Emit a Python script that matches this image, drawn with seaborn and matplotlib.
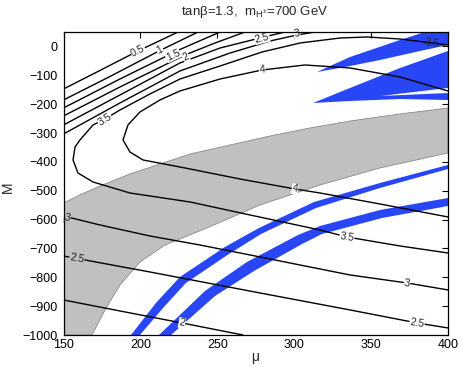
import matplotlib
matplotlib.use("Agg")
import matplotlib.pyplot as plt
import seaborn as sns
import pandas as pd

# ---------------- data (mu, M) ----------------
c05_mu = [150, 173.7, 198.4, 224.5]
c05_M = [-147.5, -83.3, -15.8, 50]
c1_mu = [150, 180.2, 212.7, 237.5]
c1_M = [-185.6, -104.2, -14.1, 50]
c15_mu = [150, 186.7, 225.7, 251.8]
c15_M = [-213.3, -112.9, -10.6, 50]
c2u_mu = [150, 186.7, 229.0, 248.5, 268.0]
c2u_M = [-241.0, -140.6, -29.7, 11.9, 50]
c25u_mu = [150, 186.7, 225.7, 251.8, 279.1, 294.0]
c25u_M = [-272.2, -168.3, -57.4, -5.4, 30.9, 50]
c3u_mu = [150, 186.7, 225.7, 258.3, 284.3, 301.8, 313.5]
c3u_M = [-303.4, -196.0, -85.1, -22.8, 18.8, 39.6, 50]
c35_mu = [400, 389.6, 368.8, 347.3, 329.8, 303.8, 279.1, 251.8, 225.7, 206.2,
          186.7, 177.0, 169.2, 160.7, 157.5, 156.2, 159.4, 169.2, 193.2, 232.3,
          271.3, 316.8, 334.3, 368.8, 400]
c35_M = [5.0, 11.9, 25.7, 32.7, 29.2, 11.9, -19.3, -67.8, -112.9, -164.8,
         -220.3, -251.5, -272.2, -324.2, -348.5, -393.5, -438.6, -469.8, -507.9,
         -539.1, -584.1, -636.1, -660.3, -691.5, -715.8]
c4_mu = [400, 368.8, 336.3, 307.0, 279.1, 251.8, 225.7, 212.7, 199.7, 191.9,
         188.7, 193.2, 201.7, 229.0, 264.8, 300.5, 316.8, 355.8, 400]
c4_M = [-154.4, -105.9, -74.7, -64.3, -81.7, -112.9, -154.4, -185.6, -227.2,
        -272.2, -324.2, -365.8, -393.5, -421.2, -459.4, -494.0, -507.9, -546.0,
        -591.0]
c3l_mu = [150, 173.7, 206.2, 238.7, 277.8, 303.8, 336.3, 373.4, 400]
c3l_M = [-587.6, -618.7, -656.9, -688.1, -729.6, -757.4, -792.0, -819.7, -843.9]
c25l_mu = [150, 206.2, 277.8, 336.3, 379.9, 400]
c25l_M = [-726.2, -781.6, -854.4, -913.2, -958.3, -975.6]
c2l_mu = [150, 186.7, 227.0, 266.7]
c2l_M = [-878.6, -916.7, -958.3, -1000]

lines_mu = [c05_mu, c1_mu, c15_mu, c2u_mu, c25u_mu, c3u_mu, c35_mu, c4_mu,
            c3l_mu, c25l_mu, c2l_mu]
lines_M = [c05_M, c1_M, c15_M, c2u_M, c25u_M, c3u_M, c35_M, c4_M,
           c3l_M, c25l_M, c2l_M]

# contour labels: text, mu, M
lab_text = ["0.5", "1", "1.5", "2", "2.5", "3", "3.5", "3.5", "4", "4",
            "3.5", "3", "3", "2.5", "2.5", "2"]
lab_mu = [198.4, 212.7, 221.2, 229.6, 279.1, 301.8, 177.0, 389.6, 279.1, 300.5,
          334.3, 152.3, 373.4, 158.8, 379.9, 227.0]
lab_M = [-15.8, -12.4, -29.7, -36.6, 29.2, 43.1, -254.9, 11.9, -81.7, -494.0,
         -660.3, -594.5, -819.7, -733.1, -958.3, -958.3]

# gray excluded band
gray_mu = [150, 160.7, 173.7, 193.2, 212.7, 232.3, 258.3, 284.3, 310.3, 336.3,
           368.8, 400, 400, 355.8, 316.8, 277.8, 243.3, 216.0, 199.7, 186.7,
           177.0, 168.5, 150]
gray_M = [-542.5, -514.8, -483.6, -442.0, -407.4, -372.7, -341.5, -310.4,
          -282.6, -258.4, -234.1, -213.3, -369.3, -421.2, -480.1, -549.4,
          -629.1, -688.1, -747.0, -826.6, -913.2, -1000, -1000]

# blue allowed regions
bandA_mu = [193.9, 210.1, 225.7, 255.0, 277.1, 312.9, 355.8, 400,
            400, 355.8, 314.2, 278.4, 257.6, 229.6, 215.3, 199.7]
bandA_M = [-1000, -889.0, -798.9, -694.9, -629.1, -539.1, -473.2, -410.8,
           -424.7, -490.5, -559.8, -650.0, -719.2, -819.7, -902.9, -1000]
bandB_mu = [212.1, 242.0, 269.3, 302.5, 316.8, 355.8, 400,
            400, 357.1, 318.1, 305.1, 273.9, 248.5, 219.9]
bandB_M = [-1000, -847.4, -746.9, -653.4, -622.2, -566.8, -525.2,
           -552.9, -594.5, -649.9, -684.6, -778.1, -864.8, -1000]
wedge1_mu = [314.8, 336.3, 368.8, 385.0, 400, 400, 381.8, 355.8, 333.0]
wedge1_M = [-88.6, -36.6, 22.3, 50, 50, 5.0, -15.8, -47.0, -71.3]
wedge2_mu = [312.2, 336.3, 368.8, 400, 400, 355.8, 400, 400, 368.8, 336.3]
wedge2_M = [-196.0, -144.0, -74.7, -15.8, -144.0, -171.8, -161.4, -185.6,
            -182.2, -189.1]

x_ticks = [150, 200, 250, 300, 350, 400]
y_ticks = [0, -100, -200, -300, -400, -500, -600, -700, -800, -900, -1000]

# ---------------- drawing ----------------
sns.set_theme(style="white")
plt.rcParams["font.family"] = ["Liberation Sans", "DejaVu Sans"]
plt.rcParams["mathtext.fontset"] = "custom"
plt.rcParams["mathtext.rm"] = "Liberation Sans"
plt.rcParams["mathtext.it"] = "Liberation Sans:italic"

W, H = 463, 370
fig = plt.figure(figsize=(W / 100, H / 100), dpi=100)
ax = fig.add_axes([63.5 / W, 35 / H, 384.5 / W, 303 / H])

ax.fill(gray_mu, gray_M, facecolor="#c0c0c0", edgecolor="#8a8a8a", lw=0.6, zorder=1)
blue = "#2846f6"
for mu, M in [(bandA_mu, bandA_M), (bandB_mu, bandB_M),
              (wedge1_mu, wedge1_M), (wedge2_mu, wedge2_M)]:
    ax.fill(mu, M, facecolor=blue, edgecolor="none", zorder=2)

for mu, M in zip(lines_mu, lines_M):
    df = pd.DataFrame({"mu": mu, "M": M})
    sns.lineplot(data=df, x="mu", y="M", sort=False, estimator=None,
                 color="black", lw=1.0, ax=ax, zorder=3)

lab_rot = [27, 27, 26, 25, 14, 10, 33, -8, 6, -10, -9, -14, -8, -11, -9, -12]
lab_bg = ["white"] * 6 + ["white", "none", "white", "white", "white",
                          "#c0c0c0", "white", "#c0c0c0", "white", "white"]
for t, m, v, r, bg in zip(lab_text, lab_mu, lab_M, lab_rot, lab_bg):
    kw = {}
    if bg != "none":
        kw["bbox"] = dict(facecolor=bg, edgecolor="none", pad=0.3)
    ax.text(m, v, t, fontsize=7.5, rotation=r, ha="center", va="center",
            rotation_mode="anchor", zorder=4, **kw)

ax.set_xlim(150, 400)
ax.set_ylim(-1000, 50)
ax.set_xticks(x_ticks)
ax.set_yticks(y_ticks)
ax.set_xlabel("")
ax.set_ylabel("")
ax.tick_params(direction="in", length=4, width=0.8, top=True, right=True,
               labelsize=9, colors="black")
ax.tick_params(axis="x", pad=3)
ax.tick_params(axis="y", pad=4)
for s in ax.spines.values():
    s.set_color("black")
    s.set_linewidth(0.9)
    s.set_zorder(5)

fig.text(255 / W, 1 - 12 / H, r"tanβ=1.3,  m$_{\mathrm{H}^{\pm}}$=700 GeV",
         ha="center", va="center", fontsize=9.5)
fig.text(255 / W, 1 - 357 / H, "μ", ha="center", va="center", fontsize=10)
fig.text(8 / W, 1 - 187 / H, "M", ha="center", va="center", rotation=90,
         fontsize=10)

fig.savefig("out.png", dpi=100)
